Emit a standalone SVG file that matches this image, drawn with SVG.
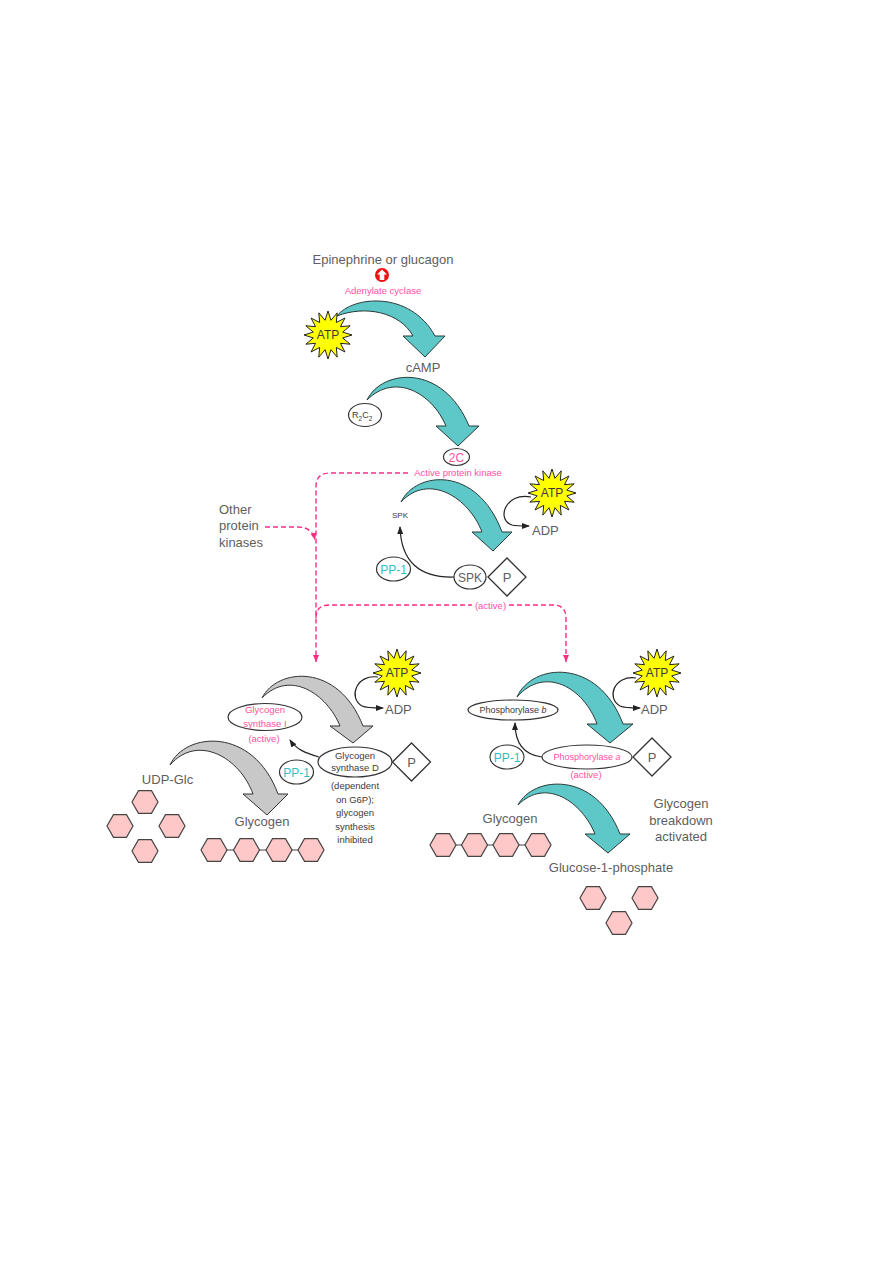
<svg xmlns="http://www.w3.org/2000/svg" width="893" height="1263" viewBox="0 0 893 1263">
<style>
text{font-family:"Liberation Sans",Arial,sans-serif;fill:#5e5e5e}
.lbl{font-size:13px}
.sm{font-size:9.5px}
.pink{fill:#ff4f9f}
.cyan{fill:#2fc0c4}
.dk{fill:#3a3a3a}
.teal{fill:#5ec8c8;stroke:#2a3a3a;stroke-width:1}
.grey{fill:#c8c8c8;stroke:#333;stroke-width:1}
.ell{fill:#fff;stroke:#333;stroke-width:1.2}
.dia{fill:#fff;stroke:#333;stroke-width:1.3}
.burst{fill:#ffff00;stroke:#222;stroke-width:1}
.hex{fill:#ffc8c8;stroke:#444;stroke-width:1.2}
.blk{fill:none;stroke:#222;stroke-width:1.2}
.dash{fill:none;stroke:#ff2a85;stroke-width:1.4;stroke-dasharray:5 3}
</style>
<defs>
<marker id="ah" markerWidth="8" markerHeight="8" refX="7" refY="4" orient="auto" markerUnits="userSpaceOnUse"><path d="M0,1 L8,4 L0,7 Z" fill="#222"/></marker>
<marker id="ahp" markerWidth="8" markerHeight="8" refX="7" refY="3.5" orient="auto" markerUnits="userSpaceOnUse"><path d="M0,0.5 L7,3.5 L0,6.5 Z" fill="#ff2a85"/></marker>
<polygon id="burst" points="24,0 14.71,2.93 22.17,9.18 12.47,8.33 16.97,16.97 8.33,12.47 9.18,22.17 2.93,14.71 0,24 -2.93,14.71 -9.18,22.17 -8.33,12.47 -16.97,16.97 -12.47,8.33 -22.17,9.18 -14.71,2.93 -24,0 -14.71,-2.93 -22.17,-9.18 -12.47,-8.33 -16.97,-16.97 -8.33,-12.47 -9.18,-22.17 -2.93,-14.71 0,-24 2.93,-14.71 9.18,-22.17 8.33,-12.47 16.97,-16.97 12.47,-8.33 22.17,-9.18 14.71,-2.93"/>
<polygon id="hex" points="-13,0 -6.5,-11.3 6.5,-11.3 13,0 6.5,11.3 -6.5,11.3"/>
<polygon id="dia" points="-19,0 0,-19 19,0 0,19"/>
</defs>

<g id="signal">
<text class="lbl" x="383" y="264" text-anchor="middle">Epinephrine or glucagon</text>
<g id="adenylate-cyclase">
<circle cx="382" cy="275" r="7" fill="#ee1111"/>
<polygon points="382,269.5 387,274.5 384.3,274.5 384.3,280 379.7,280 379.7,274.5 377,274.5" fill="#fff"/>
<text class="sm pink" x="383" y="294" text-anchor="middle">Adenylate cyclase</text>
</g>
</g>

<g id="connectors">
<path class="teal" d="M337,316 C352,296 410,290 435,336 L445,336 L425,357 L403,336 L413,336 C400,312 365,305 337,316 Z"/>
<path class="teal" d="M367,400 C382,369 443,363 469,426 L479,426 L458,446 L436,426 L446,426 C432,393 395,372 367,400 Z"/>
<path class="teal" d="M401,502 C416,471 477,465 502,532 L512,532 L493,551 L472,532 L482,532 C469,498 429,472 401,502 Z"/>
<path class="grey" d="M262,698 C277,668 338,662 363,726 L373,726 L353,743 L330,726 L340,726 C327,694 290,669 262,698 Z"/>
<path class="grey" d="M170,765 C185,732 253,726 278,794 L288,794 L267,815 L243,794 L253,794 C240,758 198,733 170,765 Z"/>
<path class="teal" d="M517,697 C532,663 598,657 623,724 L633,724 L610,743 L587,724 L597,724 C584,688 545,665 517,697 Z"/>
<path class="teal" d="M518,805 C533,776 595,770 620,834 L630,834 L608,853 L585,834 L595,834 C582,802 546,777 518,805 Z"/>
<path class="blk" marker-end="url(#ah)" d="M531,497 C505,492 496,520 512,525 C516,526 521,526 529,526"/>
<path class="blk" marker-end="url(#ah)" d="M378,677 C356,674 348,698 362,706 C366,708 373,708 383,708"/>
<path class="blk" marker-end="url(#ah)" d="M636,678 C614,675 606,698 620,706 C624,708 631,708 640,708"/>
<path class="blk" marker-end="url(#ah)" d="M454,577 C420,578 401,562 400,527"/>
<path class="blk" marker-end="url(#ah)" d="M319,757 C305,753 296,749 290,740"/>
<path class="blk" marker-end="url(#ah)" d="M542,757 C525,755 515,745 515,723"/>
<path class="dash" marker-end="url(#ahp)" d="M408,473 L330,473 Q316,473 316,487 L316,662"/>
<path class="dash" marker-end="url(#ahp)" d="M265,527 L298,527 Q312,527 315,540"/>
<path class="dash" d="M316,618 Q316,605 329,605 L472,605"/>
<path class="dash" marker-end="url(#ahp)" d="M509,605 L553,605 Q566,605 566,618 L566,662"/>
<text class="sm pink" x="458" y="476" text-anchor="middle">Active protein kinase</text>
<text class="sm pink" x="490.5" y="608.5" text-anchor="middle">(active)</text>
<text class="lbl" x="219" y="514">Other</text>
<text class="lbl" x="219" y="530">protein</text>
<text class="lbl" x="219" y="547">kinases</text>
</g>

<g id="atp-1"><use href="#burst" class="burst" transform="translate(328,335)"/><text x="328" y="339" font-size="12" text-anchor="middle" class="dk">ATP</text></g>
<g id="camp"><text class="lbl" x="423" y="372" text-anchor="middle">cAMP</text></g>
<g id="r2c2"><ellipse class="ell" cx="365" cy="415" rx="16.5" ry="11.5"/><text x="352" y="418" font-size="9" class="dk">R<tspan font-size="6.5" dy="2.5">2</tspan><tspan dy="-2.5">C</tspan><tspan font-size="6.5" dy="2.5">2</tspan></text></g>
<g id="c2"><ellipse class="ell" cx="456.5" cy="457" rx="13" ry="8.5"/><text x="456.5" y="461.5" font-size="12" text-anchor="middle" class="pink">2C</text></g>

<g id="spk"><text x="400" y="518" font-size="8" text-anchor="middle" class="dk">SPK</text></g>
<g id="atp-2"><use href="#burst" class="burst" transform="translate(552,493)"/><text x="552" y="497" font-size="12" text-anchor="middle" class="dk">ATP</text></g>
<g id="adp-1"><text class="lbl" x="532" y="535">ADP</text></g>
<g id="pp1-1"><ellipse class="ell" cx="393.5" cy="569" rx="17" ry="12"/><text x="393.5" y="573.5" font-size="12" text-anchor="middle" class="cyan">PP-1</text></g>
<g id="spk-p"><ellipse class="ell" cx="470" cy="577" rx="16" ry="12"/><text x="470" y="581.5" font-size="12" text-anchor="middle">SPK</text><use href="#dia" class="dia" transform="translate(507,577)"/><text x="507" y="582" font-size="13" text-anchor="middle">P</text></g>

<g id="atp-3"><use href="#burst" class="burst" transform="translate(397,673)"/><text x="397" y="677" font-size="12" text-anchor="middle" class="dk">ATP</text></g>
<g id="adp-2"><text class="lbl" x="385" y="714">ADP</text></g>
<g id="gs-i"><ellipse class="ell" cx="265" cy="717" rx="37" ry="13.5"/><text x="265" y="713" class="sm pink" text-anchor="middle">Glycogen</text><text x="265" y="726.5" class="sm pink" text-anchor="middle">synthase I</text><text x="264" y="742" class="sm pink" text-anchor="middle">(active)</text></g>
<g id="gs-d"><ellipse class="ell" cx="355" cy="762" rx="37" ry="15"/><text x="355" y="759" class="sm dk" text-anchor="middle">Glycogen</text><text x="355" y="771" class="sm dk" text-anchor="middle">synthase D</text><use href="#dia" class="dia" transform="translate(411.5,762)"/><text x="411.5" y="767" font-size="13" text-anchor="middle">P</text>
<text class="sm dk" x="355" y="789" text-anchor="middle">(dependent</text><text class="sm dk" x="355" y="802.5" text-anchor="middle">on G6P);</text><text class="sm dk" x="355" y="816" text-anchor="middle">glycogen</text><text class="sm dk" x="355" y="829.5" text-anchor="middle">synthesis</text><text class="sm dk" x="355" y="843" text-anchor="middle">inhibited</text></g>
<g id="pp1-2"><ellipse class="ell" cx="296.5" cy="772" rx="17" ry="12"/><text x="296.5" y="776.5" font-size="12" text-anchor="middle" class="cyan">PP-1</text></g>
<g id="udp-glc"><text class="lbl" x="167.5" y="784" text-anchor="middle">UDP-Glc</text>
<use href="#hex" class="hex" transform="translate(145,802)"/><use href="#hex" class="hex" transform="translate(120,826)"/><use href="#hex" class="hex" transform="translate(172,826)"/><use href="#hex" class="hex" transform="translate(145,851)"/></g>
<g id="glycogen-1"><text class="lbl" x="262" y="826" text-anchor="middle">Glycogen</text>
<line x1="214" y1="850" x2="311" y2="850" stroke="#444" stroke-width="1.2"/>
<use href="#hex" class="hex" transform="translate(214,850)"/><use href="#hex" class="hex" transform="translate(246.5,850)"/><use href="#hex" class="hex" transform="translate(279,850)"/><use href="#hex" class="hex" transform="translate(311,850)"/></g>

<g id="atp-4"><use href="#burst" class="burst" transform="translate(657,673)"/><text x="657" y="677" font-size="12" text-anchor="middle" class="dk">ATP</text></g>
<g id="adp-3"><text class="lbl" x="641" y="714">ADP</text></g>
<g id="phos-b"><ellipse class="ell" cx="513" cy="710" rx="45" ry="10"/><text x="513" y="713" font-size="9" text-anchor="middle" class="dk">Phosphorylase <tspan font-style="italic">b</tspan></text></g>
<g id="phos-a"><ellipse class="ell" cx="587" cy="757" rx="45" ry="12"/><text x="587" y="760" font-size="9" text-anchor="middle" class="pink">Phosphorylase <tspan font-style="italic">a</tspan></text><text x="586" y="778" class="sm pink" text-anchor="middle">(active)</text><use href="#dia" class="dia" transform="translate(652,757)"/><text x="652" y="762" font-size="13" text-anchor="middle">P</text></g>
<g id="pp1-3"><ellipse class="ell" cx="507" cy="757" rx="17" ry="12"/><text x="507" y="761.5" font-size="12" text-anchor="middle" class="cyan">PP-1</text></g>
<g id="glycogen-2"><text class="lbl" x="510" y="823" text-anchor="middle">Glycogen</text>
<line x1="443" y1="845" x2="538" y2="845" stroke="#444" stroke-width="1.2"/>
<use href="#hex" class="hex" transform="translate(443,845)"/><use href="#hex" class="hex" transform="translate(474.5,845)"/><use href="#hex" class="hex" transform="translate(506,845)"/><use href="#hex" class="hex" transform="translate(538,845)"/></g>
<g id="breakdown"><text class="lbl" x="681" y="808" text-anchor="middle">Glycogen</text><text class="lbl" x="681" y="825" text-anchor="middle">breakdown</text><text class="lbl" x="681" y="841" text-anchor="middle">activated</text></g>
<g id="g1p"><text class="lbl" x="611" y="872" text-anchor="middle">Glucose-1-phosphate</text>
<use href="#hex" class="hex" transform="translate(593,898)"/><use href="#hex" class="hex" transform="translate(645,898)"/><use href="#hex" class="hex" transform="translate(619,923)"/></g>
</svg>
